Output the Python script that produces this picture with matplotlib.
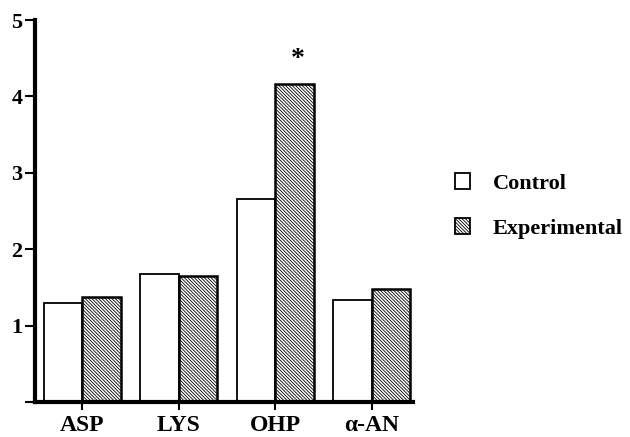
import numpy as np
import matplotlib
matplotlib.use('Agg')
import matplotlib.pyplot as plt
from matplotlib.patches import Patch

# values
categories = ['ASP', 'LYS', 'OHP', '\u03b1-AN']
control = [1.30, 1.68, 2.66, 1.34]
experimental = [1.37, 1.65, 4.17, 1.48]
y_ticks = [0, 1, 2, 3, 4, 5]
y_tick_labels = ['', '1', '2', '3', '4', '5']

plt.rcParams['font.family'] = ['Liberation Serif', 'DejaVu Serif']
plt.rcParams['font.weight'] = 'bold'
plt.rcParams['hatch.linewidth'] = 0.6

fig = plt.figure(figsize=(6.3, 4.37), dpi=100)
ax = fig.add_axes([0.0556, 0.08, 0.6, 0.874])

x = np.arange(len(categories))
w = 0.4
hatch = '\\' * 10
ax.bar(x - w / 2, control, w, color='white', edgecolor='black', linewidth=1.3,
       label='Control')
ax.bar(x + w / 2, experimental, w, color='white', edgecolor='black', linewidth=1.8,
       hatch=hatch, label='Experimental')

# significance marker over OHP experimental
ax.text(x[2] + w / 2 + 0.04, experimental[2] + 0.32, '*', ha='center', va='center',
        fontsize=20, fontweight='bold')

ax.set_xlim(-0.49, 3.43)
ax.set_ylim(0, 5)
ax.set_xticks(x)
ax.set_xticklabels(categories, fontsize=17, fontweight='bold')
ax.set_yticks(y_ticks)
ax.set_yticklabels(y_tick_labels, fontsize=16, fontweight='bold')

for s in ['top', 'right']:
    ax.spines[s].set_visible(False)
for s in ['left', 'bottom']:
    ax.spines[s].set_linewidth(3)
ax.tick_params(axis='y', length=7, width=1.5, pad=2)
ax.tick_params(axis='x', length=6, width=1.5, pad=3)

handles = [Patch(facecolor='white', edgecolor='black', linewidth=1.3),
           Patch(facecolor='white', edgecolor='black', linewidth=1.3,
                 hatch=hatch)]
fig.legend(handles, ['Control', 'Experimental'], loc='center left',
           bbox_to_anchor=(0.69, 0.528), frameon=False,
           prop={'weight': 'bold', 'size': 16}, handlelength=0.7,
           handleheight=0.7, handletextpad=1.0, labelspacing=1.1)

fig.savefig('out.png', dpi=100)
